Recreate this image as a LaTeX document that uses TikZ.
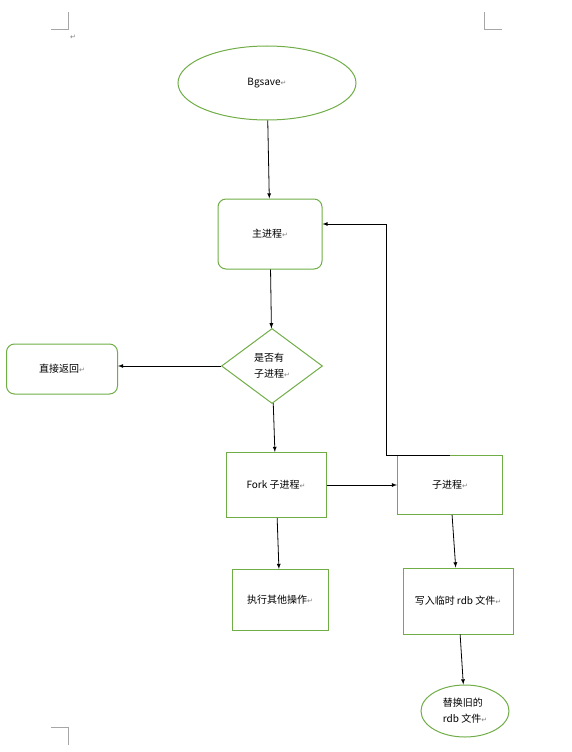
\documentclass[tikz,border=0pt]{standalone}
\usepackage{fontspec}
\usepackage{tikz}
\usepackage{xcolor}
\usetikzlibrary{shapes.geometric,calc}
\setmainfont{Noto Sans CJK SC}
\newfontfamily\markfont{DejaVu Sans}
\definecolor{wordgreen}{RGB}{112,173,71}
\newcommand{\pmark}{{\markfont\color{gray}\scriptsize ↵}}
\tikzset{
    green-ellipse/.style = {draw=wordgreen, ellipse, line width=1pt, inner sep=0pt, align=left},
    rounded-box/.style = {draw=wordgreen, rectangle, rounded corners=8pt, line width=1pt},
    plain-box/.style = {draw=wordgreen, rectangle, line width=1pt},
    decision/.style = {draw=wordgreen, diamond, line width=1pt, inner sep=0pt, align=left},
    flow-arrow/.style = {->, >=latex, line width=0.8pt, black},
    crop-mark/.style = {draw=gray!70, line width=0.8pt},
}

\begin{document}
\begin{tikzpicture}[x=1pt, y=-1pt, font=\fontsize{10}{16}\selectfont]
\useasboundingbox (0,0) rectangle (572,752);
% page corner marks
\draw[crop-mark] (68,12) -- (68,29) -- (51,29);
\draw[crop-mark] (484,12) -- (484,29) -- (502,29);
\draw[crop-mark] (51,727) -- (68,727) -- (68,745);
\node[inner sep=0pt] (topmark) at (73,37) {\pmark};

\node[green-ellipse, minimum width=178pt, minimum height=74pt] (bgsave) at (267,83) {Bgsave\pmark};
\node[rounded-box, minimum width=104pt, minimum height=70pt] (main) at (270,234) {主进程\pmark};
\node[decision, minimum width=101pt, minimum height=75pt] (haschild) at (272,366) {是否有\\子进程\pmark};
\node[rounded-box, minimum width=111pt, minimum height=50pt] (direct) at (62,369) {直接返回\pmark};
\node[plain-box, minimum width=100pt, minimum height=65pt] (fork) at (276,485) {Fork 子进程\pmark};
\node[plain-box, minimum width=105pt, minimum height=59pt] (child) at (450,485) {子进程\pmark};
\node[plain-box, minimum width=96pt, minimum height=61pt] (other) at (280,600) {执行其他操作\pmark};
\node[plain-box, minimum width=110pt, minimum height=66pt] (write) at (458,601) {写入临时 rdb 文件\pmark};
\node[green-ellipse, minimum width=88pt, minimum height=52pt] (replace) at (465,711) {替换旧的\\rdb 文件\pmark};

% connectors
\draw[flow-arrow] (bgsave) -- (main);
\draw[flow-arrow] (main) -- (haschild);
\draw[flow-arrow] (haschild.west) -- (haschild.west -| direct.east);
\draw[flow-arrow] (haschild) -- (fork);
\draw[flow-arrow] (fork.east) -- (fork.east -| child.west);
\draw[flow-arrow] (fork) -- (other);
\draw[flow-arrow] (child) -- (write);
\draw[flow-arrow] (write) -- (replace);
\draw[flow-arrow] (child.north) -- ++(-64,0) |- ($(main.east)+(0,-10)$);
\end{tikzpicture}
\end{document}
